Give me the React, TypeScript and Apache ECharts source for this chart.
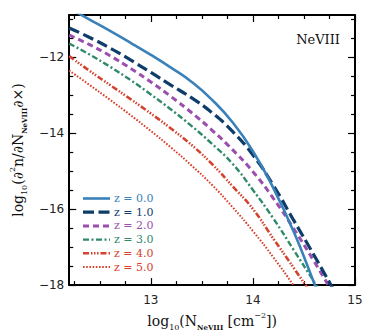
import React, { useEffect, useRef } from "react";
import * as echarts from "echarts";

// Column density grid (log10 N_NeVIII)
const N_COL = [12.2, 12.4, 12.6, 12.8, 13.0, 13.2, 13.4, 13.6, 13.8, 14.0, 14.2, 14.4, 14.6, 14.8];

// Redshift labels
const Z_LABELS = ["0.0", "1.0", "2.0", "3.0", "4.0", "5.0"];

// log10(d2n / dN dX) for each redshift
const F_Z0 = [-10.72, -11.02, -11.32, -11.63, -11.95, -12.29, -12.66, -13.13, -13.72, -14.48, -15.45, -16.6, -17.95, -19.35];
const F_Z1 = [-11.24, -11.49, -11.77, -12.08, -12.41, -12.75, -13.08, -13.47, -13.96, -14.58, -15.38, -16.3, -17.22, -18.17];
const F_Z2 = [-11.43, -11.68, -11.97, -12.3, -12.66, -13.05, -13.47, -13.93, -14.44, -15.02, -15.72, -16.52, -17.38, -18.28];
const F_Z3 = [-11.65, -11.94, -12.26, -12.61, -12.99, -13.39, -13.82, -14.29, -14.81, -15.5, -16.25, -17.08, -17.92, -18.8];
const F_Z4 = [-11.98, -12.37, -12.74, -13.11, -13.49, -13.89, -14.32, -14.82, -15.4, -16.0, -16.78, -17.55, -18.35, -19.2];
const F_Z5 = [-12.36, -12.74, -13.13, -13.53, -13.95, -14.39, -14.86, -15.37, -15.95, -16.58, -17.27, -18.02, -18.85, -19.7];

// Axis ticks
const X_MAJOR = [13, 14, 15];
const X_MINOR = [12.25, 12.5, 12.75, 13.25, 13.5, 13.75, 14.25, 14.5, 14.75];
const Y_MAJOR = [-18, -16, -14, -12];
const Y_MINOR = [-17.5, -17, -16.5, -15.5, -15, -14.5, -13.5, -13, -12.5, -11.5, -11];

const SERIES_VALUES = [F_Z0, F_Z1, F_Z2, F_Z3, F_Z4, F_Z5];
const COLORS = ["#3a80b9", "#0f3d6b", "#9a4fae", "#2f8a6a", "#d3432f", "#d8402c"];
const DASHES: (number[] | "solid")[] = [
  "solid",
  [11, 4.5],
  [6, 4],
  [6, 2.5, 2, 2.5],
  [6, 2, 1.5, 1.5, 1.5, 1.5, 1.5, 2],
  [1.6, 1.6],
];
const WIDTHS = [2.6, 3.2, 3, 2.4, 2.6, 2];

const SERIF = "DejaVu Serif";
const SANS = "DejaVu Sans";

const rich = {
  m: { fontFamily: SERIF, fontSize: 14, lineHeight: 20, color: "#111" },
  sub: { fontFamily: SERIF, fontSize: 8, lineHeight: 10, verticalAlign: "bottom", color: "#111" },
  subb: { fontFamily: SERIF, fontSize: 7, fontWeight: "bold", lineHeight: 10, verticalAlign: "bottom", color: "#111" },
  sup: { fontFamily: SERIF, fontSize: 8, lineHeight: 10, verticalAlign: "top", color: "#111" },
};

function makeX(pos: "bottom" | "top", major: boolean, showLabel: boolean) {
  return {
    type: "value",
    position: pos,
    min: 12.2,
    max: 15,
    gridIndex: 0,
    axisLine: { show: major, onZero: false, lineStyle: { color: "#000", width: 2 } },
    axisTick: {
      show: true,
      inside: true,
      length: major ? 7 : 4,
      lineStyle: { color: "#000", width: 1.2 },
      customValues: major ? X_MAJOR : X_MINOR,
    },
    axisLabel: {
      show: showLabel,
      customValues: X_MAJOR,
      margin: 9,
      fontFamily: SANS,
      fontSize: 12,
      color: "#222",
      formatter: (v: number) => String(v),
    },
    splitLine: { show: false },
    ...(showLabel
      ? {
          name: "{m|log}{sub|10}{m|(N}{subb|NeVIII}{m| [cm}{sup|−2}{m|])}",
          nameLocation: "middle",
          nameGap: 20,
          nameTextStyle: { rich },
        }
      : {}),
  };
}

function makeY(pos: "left" | "right", major: boolean, showLabel: boolean) {
  return {
    type: "value",
    position: pos,
    min: -18,
    max: -10.9,
    gridIndex: 0,
    axisLine: { show: major, onZero: false, lineStyle: { color: "#000", width: 2 } },
    axisTick: {
      show: true,
      inside: true,
      length: major ? 7 : 4,
      lineStyle: { color: "#000", width: 1.2 },
      customValues: major ? Y_MAJOR : Y_MINOR,
    },
    axisLabel: {
      show: showLabel,
      customValues: Y_MAJOR,
      margin: 5,
      fontFamily: SANS,
      fontSize: 12,
      color: "#222",
      formatter: (v: number) => String(v).replace("-", "−"),
    },
    splitLine: { show: false },
    ...(showLabel
      ? {
          name: "{m|log}{sub|10}{m|(∂}{sup|2}{m|n/∂N}{subb|NeVIII}{m|∂×)}",
          nameLocation: "middle",
          nameGap: 38,
          nameRotate: 90,
          nameTextStyle: { rich },
        }
      : {}),
  };
}

export default function App() {
  const ref = useRef<HTMLDivElement>(null);
  useEffect(() => {
    if (!ref.current) return;
    const chart = echarts.init(ref.current, null, { renderer: "svg" });

    const legendTop = 198.5;
    const legendStep = 13.7;
    const legendGraphics: any[] = [];
    Z_LABELS.forEach((z, i) => {
      const y = legendTop + i * legendStep;
      legendGraphics.push({
        type: "line",
        shape: { x1: 83, y1: y, x2: 110, y2: y },
        style: {
          stroke: COLORS[i],
          lineWidth: WIDTHS[i],
          lineDash: DASHES[i] === "solid" ? null : DASHES[i],
        },
        z: 100,
      });
      legendGraphics.push({
        type: "text",
        x: 114,
        y: y,
        style: {
          text: "z = " + z,
          fill: COLORS[i],
          font: `11px "${SERIF}"`,
          textVerticalAlign: "middle",
          textAlign: "left",
        },
        z: 100,
      });
    });

    chart.setOption({
      animation: false,
      backgroundColor: "#fff",
      grid: { left: 67, right: 19, top: 15, bottom: 48, containLabel: false },
      xAxis: [makeX("bottom", true, true), makeX("bottom", false, false), makeX("top", true, false), makeX("top", false, false)],
      yAxis: [makeY("left", true, true), makeY("left", false, false), makeY("right", true, false), makeY("right", false, false)],
      series: SERIES_VALUES.map((vals, i) => ({
        type: "line",
        name: "z = " + Z_LABELS[i],
        xAxisIndex: 0,
        yAxisIndex: 0,
        data: N_COL.map((x, j) => [x, vals[j]]),
        showSymbol: false,
        symbol: "none",
        smooth: 0.5,
        clip: true,
        lineStyle: { color: COLORS[i], width: WIDTHS[i], type: DASHES[i] },
        z: 10 - i,
      })),
      graphic: [
        ...legendGraphics,
        {
          type: "text",
          right: 34,
          top: 33,
          style: { text: "NeVIII", font: `13px "${SERIF}"`, fill: "#111" },
        },
      ],
    });
    return () => chart.dispose();
  }, []);
  return <div ref={ref} style={{ position: "absolute", left: 0, top: 0, width: 374, height: 336 }} />;
}
